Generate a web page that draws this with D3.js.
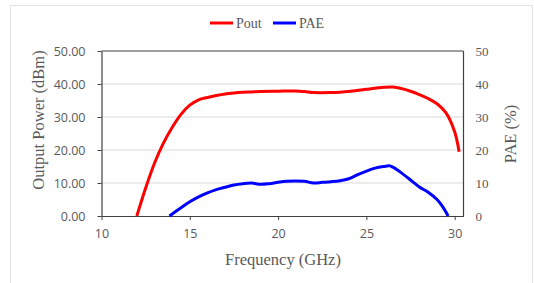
<!DOCTYPE html>
<html>
<head>
<meta charset="utf-8">
<script src="https://cdn.jsdelivr.net/npm/d3@7"></script>
<style>
  body { margin: 0; background: #fff; }
</style>
</head>
<body>
<div id="chart"></div>
<script>
// Pout curve (dBm) vs frequency (GHz)
const poutFreq = [12, 12.5, 13, 13.5, 14, 14.5, 15, 15.5, 16, 16.5, 17, 17.5, 18, 18.5, 19, 20, 21, 21.5, 22, 23, 23.5, 24, 25, 26, 26.5, 27, 27.5, 28, 28.5, 29, 29.5, 30, 30.25];
const poutVals = [0, 8.5, 16, 22, 26.8, 30.8, 33.6, 35.2, 35.9, 36.5, 37, 37.3, 37.5, 37.6, 37.7, 37.8, 37.9, 37.7, 37.4, 37.4, 37.5, 37.7, 38.4, 39, 39.1, 38.6, 37.8, 36.8, 35.6, 34, 31.3, 25.5, 19.5];

// PAE curve (%) vs frequency (GHz)
const paeFreq = [13.85, 14.5, 15, 15.5, 16, 16.5, 17, 17.5, 18, 18.5, 19, 19.5, 20, 20.5, 21, 21.5, 22, 22.5, 23, 23.5, 24, 24.5, 25, 25.5, 26, 26.3, 26.5, 27, 27.5, 28, 28.5, 29, 29.3, 29.63];
const paeVals = [0, 2.5, 4.3, 5.8, 7, 8, 8.7, 9.4, 9.8, 10, 9.6, 9.8, 10.2, 10.5, 10.6, 10.5, 10, 10.2, 10.4, 10.7, 11.3, 12.5, 13.6, 14.5, 15, 15.2, 14.8, 13, 10.9, 8.8, 7.2, 5, 3, 0];

const xTicks = [10, 15, 20, 25, 30];
const leftTicks = [0, 10, 20, 30, 40, 50];
const rightTicks = [0, 10, 20, 30, 40, 50];

const W = 534, H = 283;
const margin = { top: 51, right: 70.5, bottom: 67, left: 101.5 },
    width = W - margin.left - margin.right,
    height = H - margin.top - margin.bottom;

const svg = d3.select("#chart")
    .append("svg")
    .attr("width", W)
    .attr("height", H);

// outer chart border
svg.append("rect")
    .attr("x", 10.5).attr("y", 5.5)
    .attr("width", 522).attr("height", 300)
    .attr("fill", "none")
    .attr("stroke", "#e3e3e3");

const g = svg.append("g")
    .attr("transform", "translate(" + margin.left + "," + margin.top + ")");

const x = d3.scaleLinear().domain([10, 30.5]).range([0, width]);
const y = d3.scaleLinear().domain([0, 50]).range([height, 0]);
const y2 = d3.scaleLinear().domain([0, 50]).range([height, 0]);

const gray = "#595959";

// gridlines
g.selectAll(".grid")
    .data(leftTicks.filter(d => d > 0 && d < 50))
    .enter().append("line")
    .attr("x1", 0).attr("x2", width)
    .attr("y1", d => y(d)).attr("y2", d => y(d))
    .attr("stroke", "#d9d9d9").attr("stroke-width", 1);

// frame top + right
g.append("line").attr("x1", 0).attr("x2", width).attr("y1", 0).attr("y2", 0)
    .attr("stroke", "#404040").attr("stroke-width", 1.2);
g.append("line").attr("x1", width).attr("x2", width).attr("y1", 0).attr("y2", height)
    .attr("stroke", "#404040").attr("stroke-width", 1.2);

// left axis
const yAxis = g.append("g")
    .call(d3.axisLeft(y).tickValues(leftTicks).tickSize(4).tickSizeOuter(0).tickFormat(d3.format(".2f")));
yAxis.select(".domain").attr("stroke", "#404040").attr("stroke-width", 1.2);
yAxis.selectAll(".tick line").attr("stroke", "#404040");
yAxis.selectAll("text")
    .attr("fill", gray)
    .attr("x", -16)
    .style("font-family", "'Open Sans', 'Liberation Sans', sans-serif")
    .style("font-size", "12.5px");

// right axis (labels only)
const y2Axis = g.append("g")
    .attr("transform", "translate(" + width + ",0)")
    .call(d3.axisRight(y2).tickValues(rightTicks).tickSize(0).tickFormat(d3.format("d")));
y2Axis.select(".domain").remove();
y2Axis.selectAll("text")
    .attr("fill", gray)
    .attr("x", 12)
    .style("font-family", "'Liberation Serif', 'Times New Roman', serif")
    .style("font-size", "13px");

// bottom axis
const xAxis = g.append("g")
    .attr("transform", "translate(0," + height + ")")
    .call(d3.axisBottom(x).tickValues(xTicks).tickSize(4).tickSizeOuter(0));
xAxis.select(".domain").attr("stroke", "#404040").attr("stroke-width", 1.2);
xAxis.selectAll(".tick line").attr("stroke", "#404040");
xAxis.selectAll("text")
    .attr("fill", gray)
    .attr("y", 13)
    .style("font-family", "'Open Sans', 'Liberation Sans', sans-serif")
    .style("font-size", "12.5px");

// lines
const line = d3.line().x(d => x(d[0])).y(d => y(d[1])).curve(d3.curveCatmullRom.alpha(0.5));

g.append("path")
    .datum(poutFreq.map((f, i) => [f, poutVals[i]]))
    .attr("d", line)
    .attr("fill", "none")
    .attr("stroke", "#ff0000")
    .attr("stroke-width", 3)
    .attr("stroke-linejoin", "round");

g.append("path")
    .datum(paeFreq.map((f, i) => [f, paeVals[i]]))
    .attr("d", d3.line().x(d => x(d[0])).y(d => y2(d[1])).curve(d3.curveCatmullRom.alpha(0.5)))
    .attr("fill", "none")
    .attr("stroke", "#0000ff")
    .attr("stroke-width", 3)
    .attr("stroke-linejoin", "round");

// axis titles
svg.append("text")
    .attr("transform", "translate(44,120) rotate(-90)")
    .attr("fill", gray)
    .style("font-family", "'Liberation Serif', 'Times New Roman', serif")
    .style("font-size", "16.5px")
    .style("text-anchor", "middle")
    .text("Output Power (dBm)");

svg.append("text")
    .attr("transform", "translate(516,134) rotate(-90)")
    .attr("fill", gray)
    .style("font-family", "'Liberation Serif', 'Times New Roman', serif")
    .style("font-size", "16.5px")
    .style("text-anchor", "middle")
    .text("PAE (%)");

svg.append("text")
    .attr("x", 283).attr("y", 265)
    .attr("fill", gray)
    .style("font-family", "'Liberation Serif', 'Times New Roman', serif")
    .style("font-size", "16.5px")
    .style("text-anchor", "middle")
    .text("Frequency (GHz)");

// legend
const legend = [
    { name: "Pout", color: "#ff0000", x: 210 },
    { name: "PAE", color: "#0000ff", x: 273 }
];
const lg = svg.selectAll(".legend").data(legend).enter().append("g");
lg.append("line")
    .attr("x1", d => d.x).attr("x2", d => d.x + 23)
    .attr("y1", 23).attr("y2", 23)
    .attr("stroke", d => d.color).attr("stroke-width", 3);
lg.append("text")
    .attr("x", d => d.x + 26).attr("y", 28)
    .attr("fill", gray)
    .style("font-family", "'Liberation Serif', 'Times New Roman', serif")
    .style("font-size", "14px")
    .text(d => d.name);
</script>
</body>
</html>
